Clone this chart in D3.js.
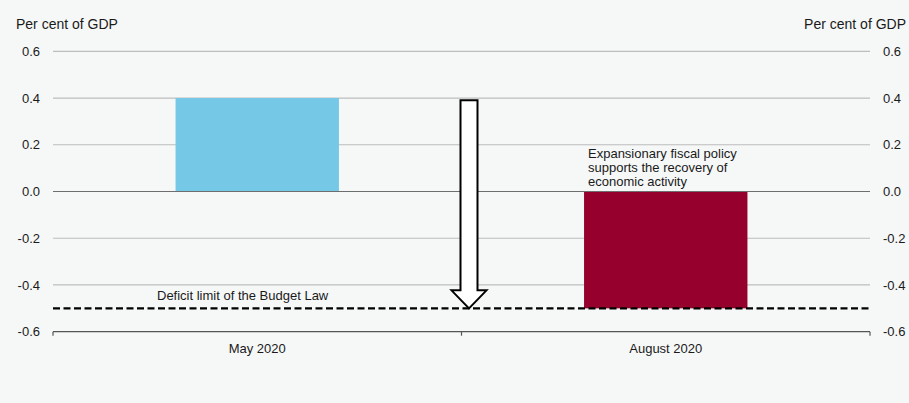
<!DOCTYPE html>
<html>
<head>
<meta charset="utf-8">
<script src="https://cdn.jsdelivr.net/npm/d3@7"></script>
<style>
  html, body { margin: 0; padding: 0; background: #f6f8f8; }
  svg { display: block; font-family: "Liberation Sans", Arial, sans-serif; }
</style>
</head>
<body>
<svg id="chart" width="909" height="403"></svg>
<script>
// Fiscal stance: structural budget balance, per cent of GDP
const categories = ["May 2020", "August 2020"];
const barStart = [0, -0.5];
const barEnd = [0.4, 0];
const barColors = ["#75c9e6", "#96002d"];
const yTicks = [0.6, 0.4, 0.2, 0.0, -0.2, -0.4, -0.6];
const deficitLimit = -0.5;
const arrowFrom = 0.39;
const arrowTo = -0.5;
const unitLabel = "Per cent of GDP";
const limitLabel = "Deficit limit of the Budget Law";
const noteLines = ["Expansionary fiscal policy", "supports the recovery of", "economic activity"];

const svg = d3.select("#chart");
const left = 53, right = 870;
const textColor = "#1a1a1a";

const x = d3.scaleBand().domain(categories).range([left, right]).paddingInner(0).paddingOuter(0);
const y = d3.scaleLinear().domain([-0.6, 0.6]).range([331.7, 51.3]);
const fmt = d => d.toFixed(1);

// gridlines
svg.append("g").selectAll("line")
  .data(yTicks.filter(t => t !== -0.6))
  .join("line")
  .attr("x1", left).attr("x2", right)
  .attr("y1", d => y(d)).attr("y2", d => y(d))
  .attr("stroke", d => d === 0 ? "#6e6e6e" : "#bdbdbd")
  .attr("stroke-width", 1.2);

// bars
const bw = x.bandwidth() * 0.4;
svg.append("g").selectAll("rect")
  .data(categories)
  .join("rect")
  .attr("x", (d) => x(d) + (x.bandwidth() - bw) / 2)
  .attr("width", bw)
  .attr("y", (d, i) => y(barEnd[i]))
  .attr("height", (d, i) => y(barStart[i]) - y(barEnd[i]))
  .attr("fill", (d, i) => barColors[i]);

// zero line drawn over the bars
svg.append("line")
  .attr("x1", left).attr("x2", right)
  .attr("y1", y(0)).attr("y2", y(0))
  .attr("stroke", "#6e6e6e").attr("stroke-width", 1.2);

// left and right value axes (labels only)
const axisL = d3.axisLeft(y).tickValues(yTicks).tickFormat(fmt).tickSize(0).tickPadding(13);
const gL = svg.append("g").attr("transform", `translate(${left},0)`).call(axisL);
const axisR = d3.axisRight(y).tickValues(yTicks).tickFormat(fmt).tickSize(0).tickPadding(13);
const gR = svg.append("g").attr("transform", `translate(${right},0)`).call(axisR);
[gL, gR].forEach(g => {
  g.select(".domain").remove();
  g.selectAll("text").attr("font-size", 13).attr("fill", textColor)
    .attr("font-family", "Liberation Sans, Arial, sans-serif");
});

// category axis
const axisB = d3.axisBottom(x).tickSize(0).tickPadding(12);
const gB = svg.append("g").attr("transform", `translate(0,${y(-0.6)})`).call(axisB);
gB.select(".domain").remove();
gB.selectAll("text").attr("font-size", 13).attr("fill", textColor)
  .attr("font-family", "Liberation Sans, Arial, sans-serif");
svg.append("line")
  .attr("x1", left).attr("x2", right)
  .attr("y1", y(-0.6)).attr("y2", y(-0.6))
  .attr("stroke", "#555").attr("stroke-width", 1.2);
svg.append("g").selectAll("line")
  .data([left, (left + right) / 2, right])
  .join("line")
  .attr("x1", d => d).attr("x2", d => d)
  .attr("y1", y(-0.6)).attr("y2", y(-0.6) + 4)
  .attr("stroke", "#555").attr("stroke-width", 1.2);

// deficit limit
svg.append("line")
  .attr("x1", left).attr("x2", right)
  .attr("y1", y(deficitLimit)).attr("y2", y(deficitLimit))
  .attr("stroke", "#000").attr("stroke-width", 2.4)
  .attr("stroke-dasharray", "7,3.5");

svg.append("text")
  .attr("x", 157).attr("y", 299.5)
  .attr("font-size", 13).attr("fill", textColor)
  .text(limitLabel);

// annotation for the August bar
const note = svg.append("text")
  .attr("x", 588).attr("y", 158)
  .attr("font-size", 13).attr("fill", textColor);
note.selectAll("tspan").data(noteLines).join("tspan")
  .attr("x", 588).attr("dy", (d, i) => i === 0 ? 0 : 14)
  .text(d => d);

// downward arrow from the May level to the deficit limit
const ax = 469, sw = 8.5, hw = 17.5, hh = 18;
const yTop = y(arrowFrom), yTip = y(arrowTo);
const arrow = d3.path();
arrow.moveTo(ax - sw, yTop);
arrow.lineTo(ax + sw, yTop);
arrow.lineTo(ax + sw, yTip - hh);
arrow.lineTo(ax + hw, yTip - hh);
arrow.lineTo(ax, yTip);
arrow.lineTo(ax - hw, yTip - hh);
arrow.lineTo(ax - sw, yTip - hh);
arrow.closePath();
svg.append("path").attr("d", arrow.toString())
  .attr("fill", "#ffffff").attr("stroke", "#000").attr("stroke-width", 2);

// unit labels
svg.append("text").attr("x", 16).attr("y", 29)
  .attr("font-size", 14).attr("fill", textColor).text(unitLabel);
svg.append("text").attr("x", 906).attr("y", 29).attr("text-anchor", "end")
  .attr("font-size", 14).attr("fill", textColor).text(unitLabel);
</script>
</body>
</html>
